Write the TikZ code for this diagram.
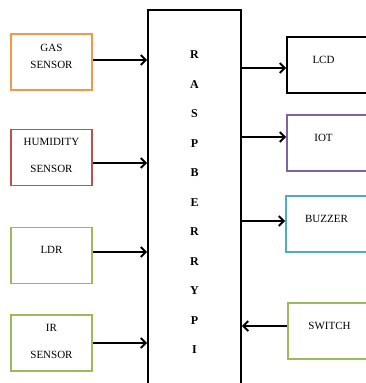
\documentclass[tikz,border=0pt]{standalone}
\usepackage{fontspec}
\setmainfont{Liberation Serif}
\usepackage{tikz}
\usetikzlibrary{arrows.meta,positioning}
\definecolor{gasorange}{HTML}{F79646}
\definecolor{humred}{HTML}{C0504D}
\definecolor{ldrgreen}{HTML}{9BBB59}
\definecolor{iotpurple}{HTML}{8064A2}
\definecolor{buzzblue}{HTML}{4BACC6}
\tikzset{
  unitbox/.style={
    rectangle, line width=1.8pt,
    minimum width=81pt, minimum height=56pt, inner sep=0pt
  },
  boxtext/.style={
    font=\fontsize{11}{27}\selectfont, align=center,
    inner sep=0pt, yshift=5pt
  },
  pibox/.style={
    rectangle, draw, line width=1.8pt,
    minimum width=93pt, minimum height=385pt, inner sep=0pt,
    font=\bfseries\fontsize{12}{29.5}\selectfont, align=center
  },
  link/.style={line width=1.9pt, -{Straight Barb[length=5pt,width=10pt]}}
}
\begin{document}
\begin{tikzpicture}[x=1pt, y=-1pt]
  \useasboundingbox (0,0) rectangle (366,383);
  \clip (0,0) rectangle (366,383);

  % ==== RASPBERRY PI ====
  \node[pibox] (pi) at (194.5, 202.5) {R\\A\\S\\P\\B\\E\\R\\R\\Y\\P\\I};

  % ==== INPUTS (left) ====
  \node[unitbox, draw=gasorange,
    label={[boxtext, yshift=0.5pt]center:{GAS\\[-10pt]SENSOR}}] (gas) at (51.5, 62) {};
  \node[unitbox, draw=humred,
    label={[boxtext, yshift=-3pt]center:{HUMIDITY\\SENSOR}}] (hum) at (51.5, 157.5) {};
  \node[unitbox, draw=ldrgreen,
    label={[boxtext, yshift=0.5pt]center:LDR}] (ldr) at (51.5, 255.5) {};
  \node[unitbox, draw=ldrgreen,
    label={[boxtext, yshift=-3.5pt]center:{IR\\SENSOR}}] (ir) at (51.5, 343) {};

  % ==== OUTPUTS (right) ====
  \node[unitbox, draw=black,
    label={[boxtext, xshift=-4pt]center:LCD}] (lcd) at (327.5, 65) {};
  \node[unitbox, draw=iotpurple,
    label={[boxtext, xshift=-4pt]center:IOT}] (iot) at (327.5, 143) {};
  \node[unitbox, draw=buzzblue,
    label={[boxtext]center:BUZZER}] (buzz) at (326.5, 224) {};
  \node[unitbox, draw=ldrgreen,
    label={[boxtext, xshift=1pt]center:SWITCH}] (sw) at (328.5, 331) {};

  % ==== CONNECTIONS ====
  \draw[link] ([yshift=2pt]gas.east) -- ([yshift=2pt]gas.east -| pi.west);
  \draw[link] ([yshift=-5.5pt]hum.east) -- ([yshift=-5.5pt]hum.east -| pi.west);
  \draw[link] ([yshift=3.5pt]ldr.east) -- ([yshift=3.5pt]ldr.east -| pi.west);
  \draw[link] (ir.east) -- (ir.east -| pi.west);
  \draw[link] ([yshift=-3pt]lcd.west -| pi.east) -- ([yshift=-3pt]lcd.west);
  \draw[link] ([yshift=6pt]iot.west -| pi.east) -- ([yshift=6pt]iot.west);
  \draw[link] ([yshift=3pt]buzz.west -| pi.east) -- ([yshift=3pt]buzz.west);
  \draw[link] ([yshift=5pt]sw.west) -- ([yshift=5pt]sw.west -| pi.east);
\end{tikzpicture}
\end{document}
